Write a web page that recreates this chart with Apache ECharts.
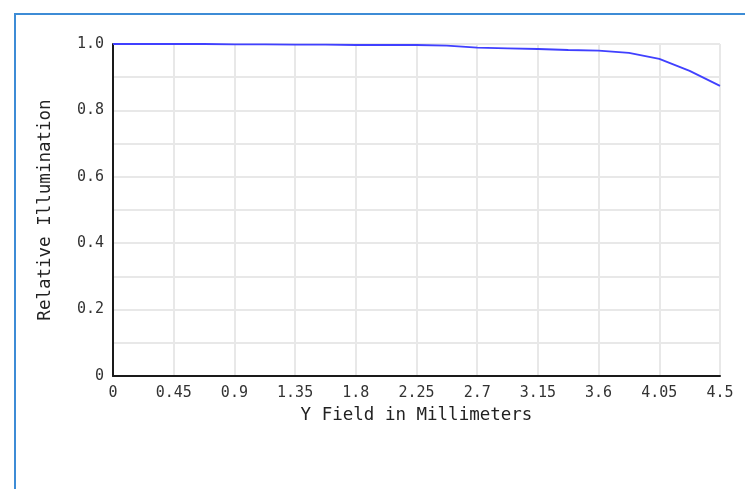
<!DOCTYPE html>
<html>
<head>
<meta charset="utf-8">
<script src="https://cdn.jsdelivr.net/npm/echarts@6/dist/echarts.min.js"></script>
<style>
html,body{margin:0;padding:0;background:#fff;width:745px;height:489px;overflow:hidden;}
#frame{position:absolute;left:14px;top:13px;width:800px;height:600px;border-left:2px solid #3d8cd6;border-top:2px solid #3d8cd6;}
#chart{position:absolute;left:0;top:0;width:745px;height:489px;}
</style>
</head>
<body>
<div id="frame"></div>
<div id="chart"></div>
<script>
const fieldMm = [0, 0.225, 0.45, 0.675, 0.9, 1.125, 1.35, 1.575, 1.8, 2.025, 2.25, 2.475, 2.7, 2.925, 3.15, 3.375, 3.6, 3.825, 4.05, 4.275, 4.5];
const illumination = [1.0, 1.0, 1.0, 1.0, 0.999, 0.999, 0.998, 0.998, 0.997, 0.997, 0.997, 0.995, 0.989, 0.987, 0.985, 0.982, 0.980, 0.973, 0.955, 0.919, 0.874];
const xTitle = 'Y Field in Millimeters';
const yTitle = 'Relative Illumination';

const chart = echarts.init(document.getElementById('chart'));
const font = 'DejaVu Sans Mono';
chart.setOption({
  animation: false,
  backgroundColor: 'transparent',
  grid: {left: 113, right: 25, top: 44, bottom: 113},
  xAxis: {
    type: 'value', min: 0, max: 4.5, interval: 0.45,
    name: xTitle, nameLocation: 'middle', nameGap: 30,
    nameTextStyle: {fontFamily: font, fontSize: 17.5, color: '#222'},
    axisLine: {show: true, lineStyle: {color: '#1a1a1a', width: 2}},
    axisTick: {show: false},
    axisLabel: {fontFamily: font, fontSize: 15, color: '#333', margin: 10,
      formatter: v => String(Math.round(v * 100) / 100)},
    splitLine: {show: true, lineStyle: {color: '#e8e8e8', width: 2}}
  },
  yAxis: {
    type: 'value', min: 0, max: 1, interval: 0.1,
    name: yTitle, nameLocation: 'middle', nameGap: 59,
    nameTextStyle: {fontFamily: font, fontSize: 17.5, color: '#222'},
    axisLine: {show: true, lineStyle: {color: '#1a1a1a', width: 2}},
    axisTick: {show: false},
    axisLabel: {fontFamily: font, fontSize: 15, color: '#333', margin: 9,
      formatter: v => {
        const k = Math.round(v * 10);
        if (k % 2 !== 0) return '';
        return k === 0 ? '0' : (k / 10).toFixed(1);
      }},
    splitLine: {show: true, lineStyle: {color: '#e8e8e8', width: 2}}
  },
  series: [{
    type: 'line',
    data: fieldMm.map((x, i) => [x, illumination[i]]),
    showSymbol: false,
    lineStyle: {color: '#4040ff', width: 1.8},
    itemStyle: {color: '#4040ff'}
  }]
});
</script>
</body>
</html>
